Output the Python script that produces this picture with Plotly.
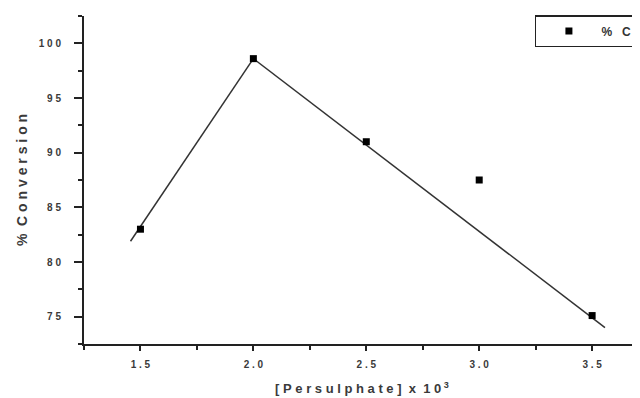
import plotly.graph_objects as go

# data points
persulphate = [1.5, 2.0, 2.5, 3.0, 3.5]
conversion = [83.0, 98.6, 91.0, 87.5, 75.1]

# fitted line segments
fit1_x = [1.456, 2.0]
fit1_y = [81.9, 98.6]
fit2_x = [2.0, 3.557]
fit2_y = [98.6, 74.0]

NB = "\u00a0"
xtick_vals = [1.5, 2.0, 2.5, 3.0, 3.5]
xtick_text = [NB.join(list(t)) for t in ["1.5", "2.0", "2.5", "3.0", "3.5"]]
ytick_vals = [75, 80, 85, 90, 95, 100]
ytick_text = [NB.join(list(t)) for t in ["75", "80", "85", "90", "95", "100"]]

legend_name = "%" + NB * 3 + "C" + NB + NB.join(list("onversion"))
x_title = NB.join(list("[Persulphate]")) + NB * 2 + "x" + NB * 2 + "1" + NB + "0<sup>" + NB + "3</sup>"
y_title = "%" + NB * 2 + NB.join(list("Conversion"))

font_family = "Liberation Sans, Arial, sans-serif"
line_col = "#333333"
axis_col = "#222222"
text_col = "#3a3a3a"

fig = go.Figure()
fig.add_trace(go.Scatter(x=fit1_x, y=fit1_y, mode="lines",
                         line=dict(color=line_col, width=1.5), showlegend=False, hoverinfo="skip"))
fig.add_trace(go.Scatter(x=fit2_x, y=fit2_y, mode="lines",
                         line=dict(color=line_col, width=1.5), showlegend=False, hoverinfo="skip"))
fig.add_trace(go.Scatter(x=persulphate, y=conversion, mode="markers", name=legend_name,
                         marker=dict(symbol="square", size=7, color="black")))

# page body has an 8px default margin, so the figure is drawn 8px in from the top-left
fig.update_layout(
    width=632, height=390,
    margin=dict(l=76, r=0, t=8, b=54, autoexpand=False),
    paper_bgcolor="white", plot_bgcolor="white",
    font=dict(family=font_family, color=text_col, size=10, weight="bold"),
    showlegend=True,
    legend=dict(x=0.811, y=1.003, xanchor="left", yanchor="top",
                bordercolor=axis_col, borderwidth=1.5, bgcolor="white",
                font=dict(size=12, color="#333333", family=font_family, weight="bold"),
                itemwidth=55, tracegroupgap=0),
    xaxis=dict(range=[1.25, 3.712], showline=True, linecolor=axis_col, linewidth=2,
               showgrid=False, zeroline=False,
               tickmode="array", tickvals=xtick_vals, ticktext=xtick_text,
               ticks="outside", ticklen=5, tickwidth=1.5, tickcolor=axis_col,
               ticklabelstandoff=5,
               tickfont=dict(size=10, color=text_col, weight="bold"),
               minor=dict(tickmode="array", tickvals=[1.25, 1.75, 2.25, 2.75, 3.25],
                          ticks="outside", ticklen=4, tickwidth=1.5, tickcolor=axis_col, showgrid=False),
               title=dict(text=x_title, font=dict(size=13, color=text_col, weight="bold"), standoff=15)),
    yaxis=dict(range=[72.5, 102.5], showline=True, linecolor=axis_col, linewidth=2,
               showgrid=False, zeroline=False,
               tickmode="array", tickvals=ytick_vals, ticktext=ytick_text,
               ticks="outside", ticklen=8, tickwidth=1.5, tickcolor=axis_col,
               ticklabelstandoff=11,
               tickfont=dict(size=10, color=text_col, weight="bold"),
               minor=dict(tickmode="array", tickvals=[72.5, 77.5, 82.5, 87.5, 92.5, 97.5, 102.5],
                          ticks="outside", ticklen=4, tickwidth=1.5, tickcolor=axis_col, showgrid=False),
               title=dict(text=y_title, font=dict(size=14, color=text_col, weight="bold"), standoff=8)),
)

fig.write_html("out.html")
